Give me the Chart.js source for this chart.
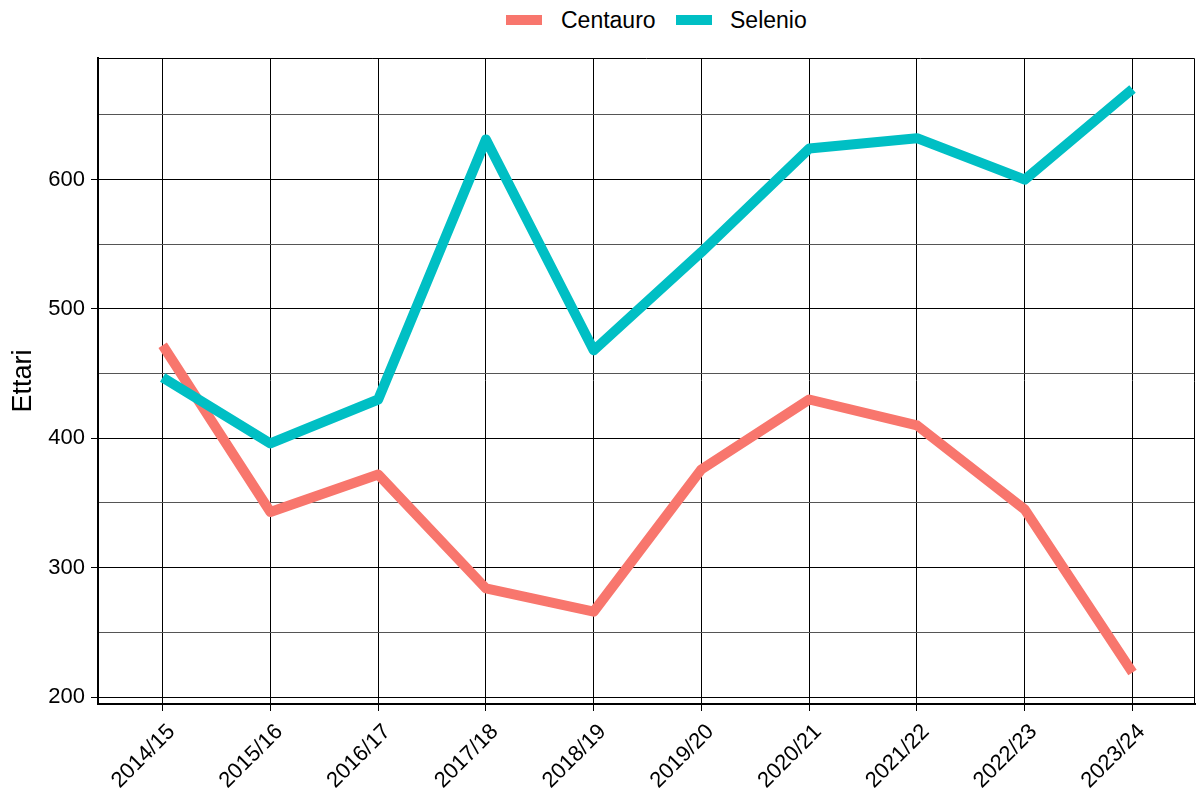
<!DOCTYPE html>
<html>
<head>
<meta charset="utf-8">
<script src="https://cdn.jsdelivr.net/npm/chart.js@4/dist/chart.umd.min.js"></script>
<style>
html,body{margin:0;padding:0;background:#fff;}
#wrap{position:relative;width:1198px;height:800px;}
#legend{position:absolute;left:473px;top:0;width:349px;height:58px;background:#fff;
  font-family:"Liberation Sans", Arial, Helvetica, sans-serif;font-size:23px;color:#000;}
.sw{position:absolute;top:15px;width:36px;height:10px;}
.lt{position:absolute;top:20px;transform:translateY(-50%);line-height:1;white-space:nowrap;}
</style>
</head>
<body>
<div id="wrap">
<canvas id="c" width="1198" height="800"></canvas>
<div id="legend"></div>
</div>
<script>
const categories = ['2014/15','2015/16','2016/17','2017/18','2018/19','2019/20','2020/21','2021/22','2022/23','2023/24'];
const centauro = [472, 343, 372, 284, 266, 376, 430, 410, 345, 219];
const selenio  = [447, 396, 430, 631, 468, 544, 624, 632, 600, 670];
const yTicks = [200, 250, 300, 350, 400, 450, 500, 550, 600, 650];
const seriesNames = ['Centauro', 'Selenio'];
const seriesColors = ['#F8766D', '#00BFC4'];

const FONT = '"Liberation Sans", Arial, Helvetica, sans-serif';

const toPts = arr => arr.map((v, i) => ({x: i, y: v}));

const frame = {
  id: 'frame',
  afterDatasetsDraw(chart) {
    const {ctx, chartArea: a} = chart;
    ctx.save();
    ctx.strokeStyle = '#000';
    ctx.lineWidth = 1;
    ctx.beginPath();
    ctx.moveTo(a.left, a.top + 0.5);
    ctx.lineTo(a.right - 0.5, a.top + 0.5);
    ctx.lineTo(a.right - 0.5, a.bottom);
    ctx.stroke();
    ctx.restore();
  }
};

const chart = new Chart(document.getElementById('c'), {
  type: 'line',
  data: {
    datasets: [
      {label: seriesNames[0], data: toPts(centauro), borderColor: seriesColors[0], backgroundColor: seriesColors[0],
       borderWidth: 10, pointRadius: 0, borderCapStyle: 'butt', borderJoinStyle: 'round', tension: 0, order: 2},
      {label: seriesNames[1], data: toPts(selenio), borderColor: seriesColors[1], backgroundColor: seriesColors[1],
       borderWidth: 10, pointRadius: 0, borderCapStyle: 'butt', borderJoinStyle: 'round', tension: 0, order: 1}
    ]
  },
  options: {
    responsive: false,
    animation: false,
    layout: {padding: {top: 58, right: 3, left: 0, bottom: 0}},
    plugins: {
      legend: {display: false},
      tooltip: {enabled: false}
    },
    scales: {
      x: {
        type: 'linear',
        min: -0.6, max: 9.58,
        afterBuildTicks: s => { s.ticks = categories.map((c, i) => ({value: i})); },
        afterFit: s => { s.height = 96; },
        ticks: {
          callback: v => categories[v],
          maxRotation: 45, minRotation: 45,
          color: '#000', padding: 8, labelOffset: 9,
          font: {family: FONT, size: 22}
        },
        grid: {color: '#000', lineWidth: 1, tickLength: 7, tickColor: '#000'},
        border: {color: '#000', width: 2}
      },
      y: {
        type: 'linear',
        min: 194.6, max: 694,
        afterBuildTicks: s => { s.ticks = yTicks.map(v => ({value: v})); },
        afterFit: s => { s.width = 98; },
        title: {display: true, text: 'Ettari', color: '#000', font: {family: FONT, size: 27}, padding: {top: 7, bottom: 0}},
        ticks: {
          callback: v => (v % 100 === 0 ? String(v) : ''),
          color: '#000', padding: 6,
          font: {family: FONT, size: 22}
        },
        grid: {
          color: c => (c.tick && c.tick.value % 100 === 0 ? '#000' : '#555'),
          tickColor: c => (c.tick && c.tick.value % 100 === 0 ? '#000' : 'rgba(0,0,0,0)'),
          lineWidth: 1, tickLength: 7
        },
        border: {color: '#000', width: 2}
      }
    }
  },
  plugins: [frame]
});

// HTML legend built from the chart's datasets
const lg = document.getElementById('legend');
const swLeft = [33, 203];
const txLeft = [88, 257];
chart.data.datasets.forEach((ds, i) => {
  const sw = document.createElement('div');
  sw.className = 'sw';
  sw.style.left = swLeft[i] + 'px';
  sw.style.background = ds.borderColor;
  lg.appendChild(sw);
  const t = document.createElement('span');
  t.className = 'lt';
  t.style.left = txLeft[i] + 'px';
  t.textContent = ds.label;
  lg.appendChild(t);
});
</script>
</body>
</html>
